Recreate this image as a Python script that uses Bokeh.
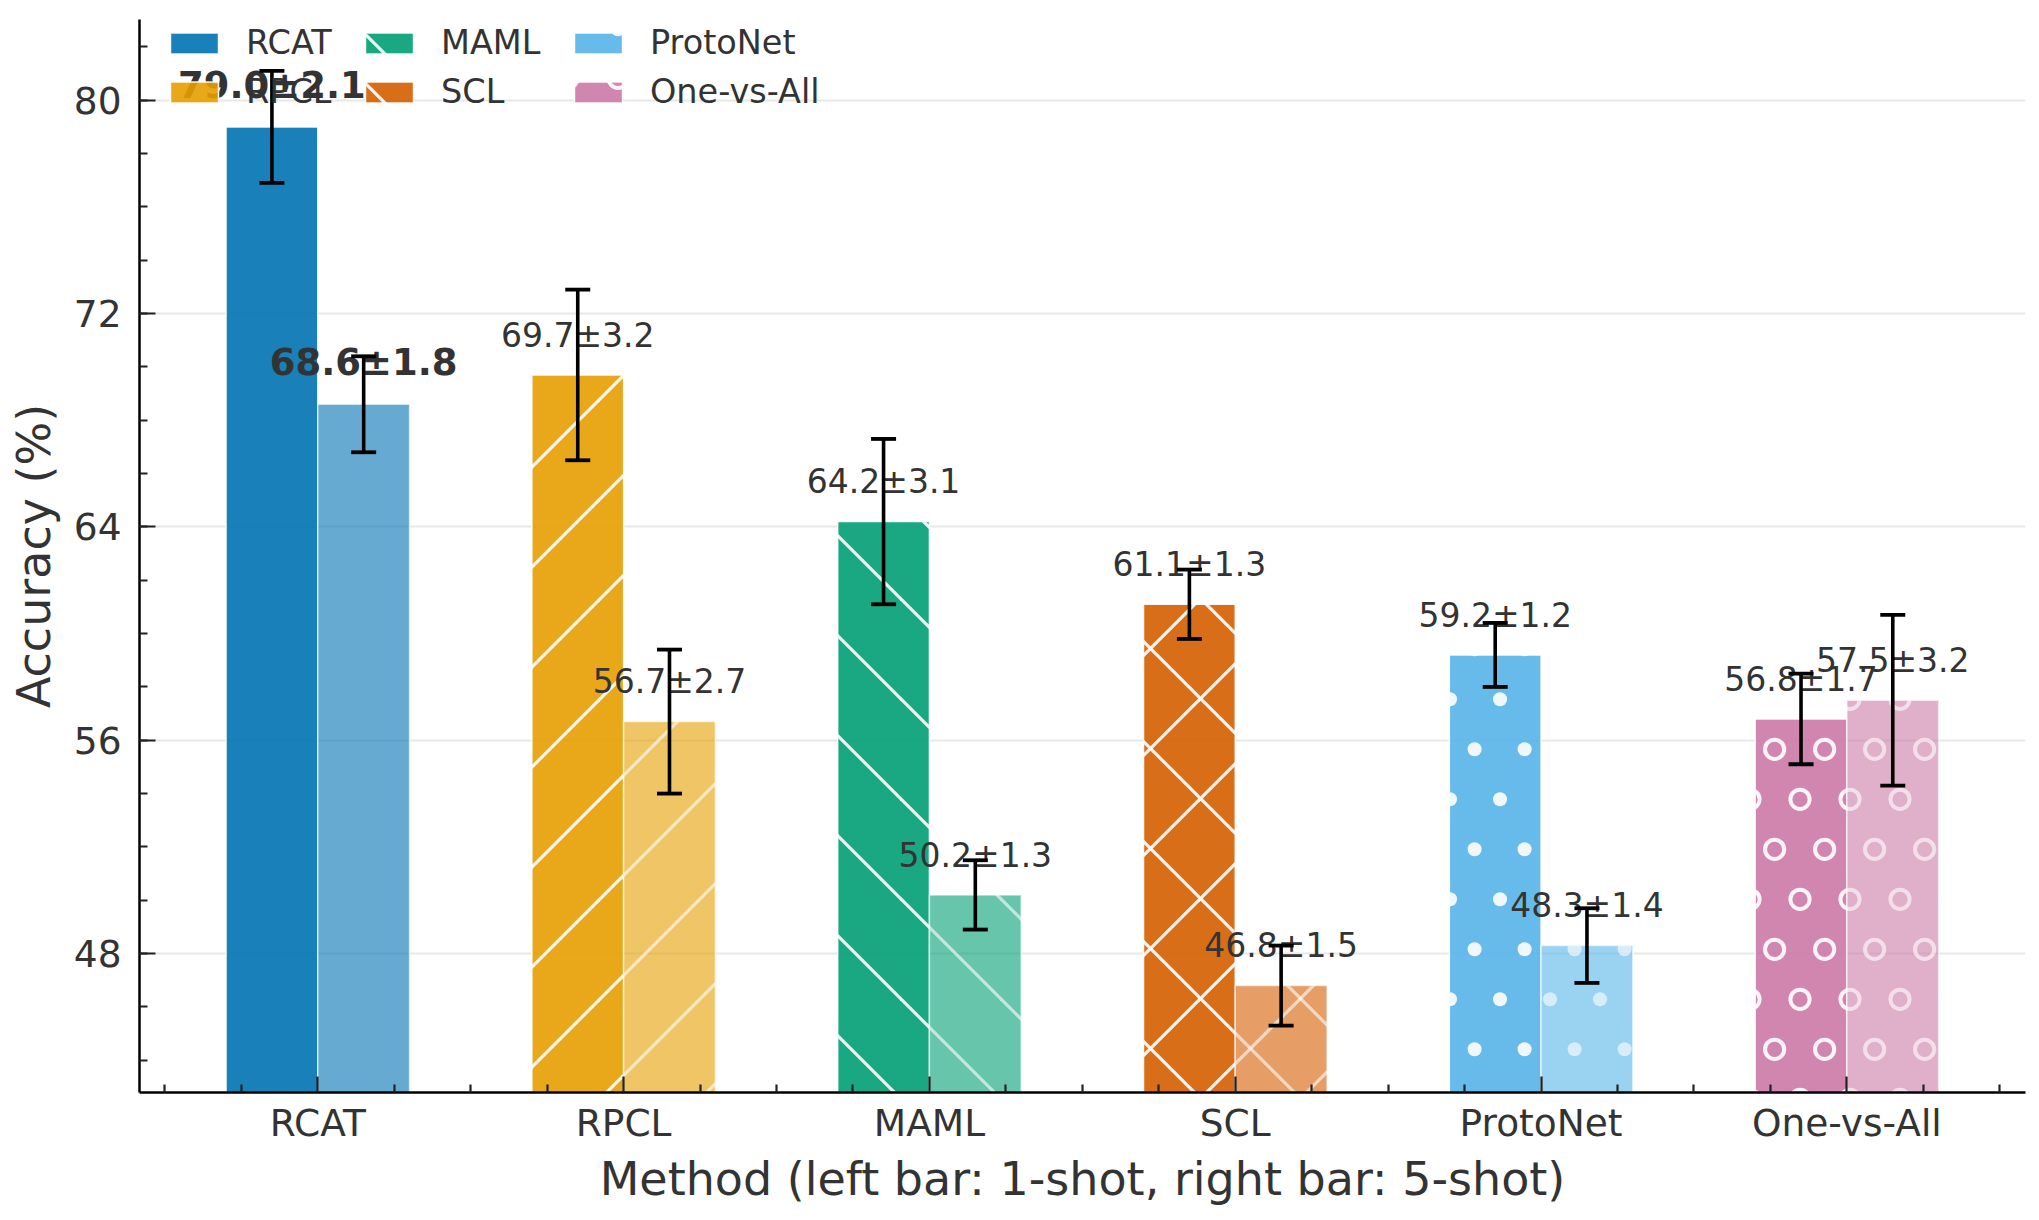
import base64
import numpy as np
from bokeh.plotting import figure
from bokeh.models import (ColumnDataSource, Range1d, FixedTicker, Whisker, TeeHead,
                          Legend, LegendItem, ImageURLTexture)
from bokeh.core.properties import value
from bokeh.embed import file_html
from bokeh.resources import INLINE

# ---------------- data ----------------
methods = ["RCAT", "RPCL", "MAML", "SCL", "ProtoNet", "One-vs-All"]
acc_1shot = [79.0, 69.7, 64.2, 61.1, 59.2, 56.8]
err_1shot = [2.1, 3.2, 3.1, 1.3, 1.2, 1.7]
acc_5shot = [68.6, 56.7, 50.2, 46.8, 48.3, 57.5]
err_5shot = [1.8, 2.7, 1.3, 1.5, 1.4, 3.2]
colors = ["#0072B2", "#E69F00", "#009E73", "#D55E00", "#56B4E9", "#CC79A7"]
hatches = [None, "ne", "nw", "cross", "dots", "rings"]
y_ticks = [48, 56, 64, 72, 80]

BAR_W = 0.3
TEXT = "#333333"
FONT = "DejaVu Sans"


# ---------------- hatch tiles (matplotlib-like), as SVG image textures ----------------
def tile_svg(kind, op):
    parts = []
    if kind in ("ne", "cross"):
        for c in (-1, 99, 199):
            parts.append(f'<path d="M{c + 60},-60 L{c - 160},160" stroke="white" '
                         f'stroke-opacity="{op}" stroke-width="3.2"/>')
    if kind in ("nw", "cross"):
        for c in (-98, 2, 102):
            parts.append(f'<path d="M{c - 60},-60 L{c + 160},160" stroke="white" '
                         f'stroke-opacity="{op}" stroke-width="3.2"/>')
    if kind in ("dots", "rings"):
        for ry, rx in ((49.3, 24.6), (99.3, 0.0)):
            for dy in (-100, 0, 100):
                for k in range(-1, 4):
                    cx, cy = rx + 50 * k, ry + dy
                    if -15 < cx < 115 and -15 < cy < 115:
                        if kind == "dots":
                            parts.append(f'<circle cx="{cx}" cy="{cy}" r="7" fill="white" fill-opacity="{op}"/>')
                        else:
                            parts.append(f'<circle cx="{cx}" cy="{cy}" r="9.6" fill="none" stroke="white" '
                                         f'stroke-opacity="{op}" stroke-width="4"/>')
    svg = ('<svg xmlns="http://www.w3.org/2000/svg" width="100" height="100" viewBox="0 0 100 100">'
           + "".join(parts) + "</svg>")
    return "data:image/svg+xml;base64," + base64.b64encode(svg.encode()).decode()


textures = {}
for kind in ("ne", "nw", "cross", "dots", "rings"):
    for op in (0.9, 0.6):
        textures[f"{kind}{op}"] = ImageURLTexture(url=tile_svg(kind, op))

# ---------------- figure ----------------
n = len(methods)
p = figure(width=2030, height=1212,
           x_range=Range1d(-0.583, 5.584), y_range=Range1d(42.79, 83.03),
           output_backend="svg", toolbar_location=None,
           min_border_left=139, min_border_right=5,
           min_border_top=19, min_border_bottom=120)
p.outline_line_color = None

x_idx = np.arange(n)
x1 = x_idx - BAR_W / 2
x5 = x_idx + BAR_W / 2

legend_renderers = []
for i in range(n):
    for xs, acc, alpha, keep in ((x1, acc_1shot, 0.9, True), (x5, acc_5shot, 0.6, False)):
        src = ColumnDataSource(dict(x=[xs[i]], top=[acc[i]]))
        kw = dict(x="x", top="top", bottom=0, width=BAR_W, source=src,
                  fill_color=colors[i], fill_alpha=alpha,
                  line_color="white", line_width=1.5, line_alpha=alpha)
        if hatches[i]:
            key = f"{hatches[i]}{alpha}"
            kw.update(hatch_pattern=value(key), hatch_extra={key: textures[key]},
                      hatch_color="white", hatch_alpha=1.0)
        r = p.vbar(**kw)
        if keep:
            legend_renderers.append(r)


# ---------------- value labels ----------------
def fmt(v, e):
    return f"{v:.1f}\u00b1{e:.1f}"


lab_x = list(x1[1:]) + list(x5[1:])
lab_y = [v + 1.0 for v in acc_1shot[1:]] + [v + 1.0 for v in acc_5shot[1:]]
lab_t = [fmt(v, e) for v, e in zip(acc_1shot[1:], err_1shot[1:])] + \
        [fmt(v, e) for v, e in zip(acc_5shot[1:], err_5shot[1:])]
p.text(x="x", y="y", text="t", source=ColumnDataSource(dict(x=lab_x, y=lab_y, t=lab_t)),
       text_font=value(FONT), text_font_size="33px", text_color=TEXT,
       text_align="center", text_baseline="alphabetic", y_offset=-13)
bold_src = ColumnDataSource(dict(x=[x1[0], x5[0]], y=[acc_1shot[0] + 1.0, acc_5shot[0] + 1.0],
                                 t=[fmt(acc_1shot[0], err_1shot[0]), fmt(acc_5shot[0], err_5shot[0])]))
p.text(x="x", y="y", text="t", source=bold_src,
       text_font=value(FONT), text_font_size="37px", text_font_style="bold", text_color=TEXT,
       text_align="center", text_baseline="alphabetic", y_offset=-15)

# ---------------- error bars ----------------
eb_base = list(x1) + list(x5)
eb_low = [v - e for v, e in zip(acc_1shot, err_1shot)] + [v - e for v, e in zip(acc_5shot, err_5shot)]
eb_up = [v + e for v, e in zip(acc_1shot, err_1shot)] + [v + e for v, e in zip(acc_5shot, err_5shot)]
eb_src = ColumnDataSource(dict(base=eb_base, lower=eb_low, upper=eb_up))
p.add_layout(Whisker(source=eb_src, base="base", lower="lower", upper="upper",
                     line_color="black", line_width=3.6, level="annotation",
                     upper_head=TeeHead(size=25, line_color="black", line_width=3.8),
                     lower_head=TeeHead(size=25, line_color="black", line_width=3.8)))

# ---------------- axes ----------------
x_minor = [k * 0.25 for k in range(-2, 23) if k % 4 != 0]
y_minor = list(range(44, 83, 2))
p.xaxis.ticker = FixedTicker(ticks=list(range(n)), minor_ticks=x_minor)
p.xaxis.major_label_overrides = {i: m for i, m in enumerate(methods)}
p.yaxis.ticker = FixedTicker(ticks=y_ticks, minor_ticks=y_minor)
p.xaxis.axis_label = "Method (left bar: 1-shot, right bar: 5-shot)"
p.yaxis.axis_label = "Accuracy (%)"
for ax in (p.xaxis[0], p.yaxis[0]):
    ax.axis_line_color = "black"
    ax.axis_line_width = 2.5
    ax.major_tick_in = 16
    ax.major_tick_out = 0
    ax.minor_tick_in = 8
    ax.minor_tick_out = 0
    ax.major_tick_line_color = "#222222"
    ax.major_tick_line_width = 2.2
    ax.minor_tick_line_color = "#222222"
    ax.minor_tick_line_width = 2.2
    ax.major_label_text_font = FONT
    ax.major_label_text_font_size = "37.5px"
    ax.major_label_text_color = TEXT
    ax.axis_label_text_font = FONT
    ax.axis_label_text_font_size = "46px"
    ax.axis_label_text_font_style = "normal"
    ax.axis_label_text_color = TEXT
p.yaxis.major_label_standoff = 18
p.yaxis.axis_label_standoff = 10
p.xaxis.major_label_standoff = 8
p.xaxis.axis_label_standoff = 4

p.xgrid.grid_line_color = None
p.ygrid.grid_line_color = "#e8e8e8"
p.ygrid.grid_line_width = 2

# ---------------- legend: three columns of two entries ----------------
leg_vx = [25, 220, 429]
for c in range(3):
    items = [LegendItem(label=methods[k], renderers=[legend_renderers[k]]) for k in (2 * c, 2 * c + 1)]
    leg = Legend(items=items, location=(leg_vx[c], 980), orientation="vertical",
                 label_text_font=FONT, label_text_font_size="33.5px", label_text_color=TEXT,
                 glyph_width=60, glyph_height=26, label_height=41, label_standoff=22,
                 spacing=8, padding=0, margin=0,
                 border_line_color=None, background_fill_alpha=0)
    p.add_layout(leg)

open("out.html", "w").write(file_html(p, INLINE))
